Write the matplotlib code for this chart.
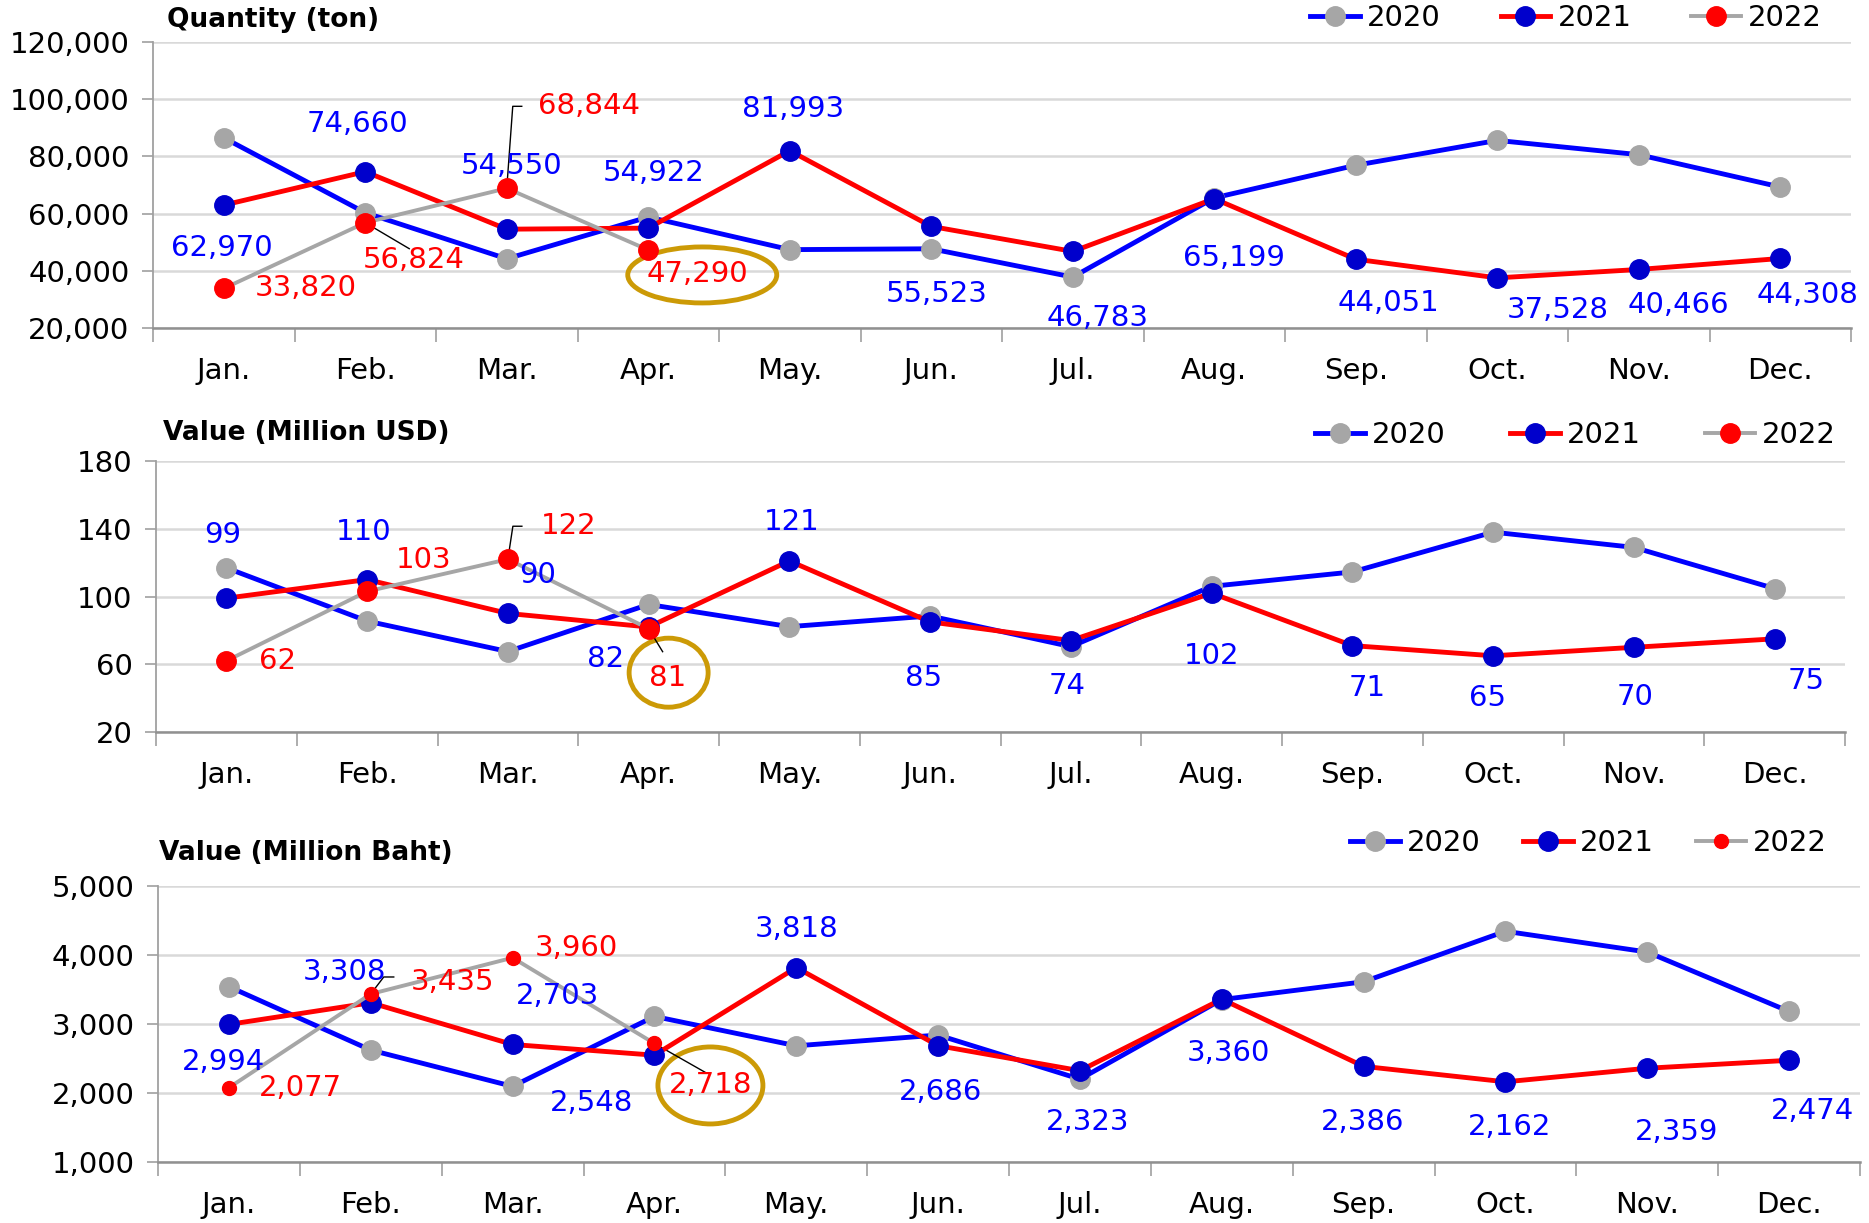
import matplotlib
matplotlib.use("Agg")
import matplotlib.pyplot as plt
import matplotlib.transforms as mtransforms
from matplotlib.lines import Line2D
from matplotlib.patches import Ellipse

plt.rcParams["font.family"] = ["DejaVu Sans"]

months = ["Jan.", "Feb.", "Mar.", "Apr.", "May.", "Jun.",
          "Jul.", "Aug.", "Sep.", "Oct.", "Nov.", "Dec."]
years = ["2020", "2021", "2022"]

# Quantity (ton)
qty_2020 = [86500, 60300, 44200, 58800, 47400, 47700, 37800, 65500, 76900, 85600, 80600, 69300]
qty_2021 = [62970, 74660, 54550, 54922, 81993, 55523, 46783, 65199, 44051, 37528, 40466, 44308]
qty_2022 = [33820, 56824, 68844, 47290]

# Value (Million USD)
usd_2020 = [116.9, 85.5, 67.5, 95.3, 82.2, 88.5, 70.4, 106.0, 114.5, 138.0, 129.0, 104.7]
usd_2021 = [99, 110, 90, 82, 121, 85, 74, 102, 71, 65, 70, 75]
usd_2022 = [62, 103, 122, 81]

# Value (Million Baht)
thb_2020 = [3541, 2622, 2096, 3110, 2684, 2840, 2201, 3354, 3612, 4344, 4043, 3182]
thb_2021 = [2994, 3308, 2703, 2548, 3818, 2686, 2323, 3360, 2386, 2162, 2359, 2474]
thb_2022 = [2077, 3435, 3960, 2718]

W, H = 1869, 1223
BLUE = "#0000FF"
DARKBLUE = "#0000CC"
RED = "#FF0000"
GRAY = "#A6A6A6"
GOLD = "#CC9A06"
FS = 21


def px_trans(ax, x, y):
    # pixel offsets around a data point
    return mtransforms.ScaledTranslation(x, y, ax.transData)


def leader(ax, x, y, pts):
    xs = [p[0] for p in pts]
    ys = [p[1] for p in pts]
    ax.add_artist(Line2D(xs, ys, color="black", lw=1.0,
                         transform=px_trans(ax, x, y), clip_on=False))


def ring(ax, x, y, dx, dy, w, h):
    tr = mtransforms.Affine2D().translate(dx, dy) + px_trans(ax, x, y)
    ax.add_artist(Ellipse((0, 0), w, h, transform=tr, fill=False,
                          ec=GOLD, lw=3.5, clip_on=False))


def draw_panel(fig, box, title, title_xy, legend_xy, colsp, s20, s21, s22,
               ylim, yticks, fmt, off21, off22, ms22=14):
    l, r, t, b = box
    ax = fig.add_axes([l / W, 1 - b / H, (r - l) / W, (b - t) / H])
    x = list(range(12))
    h20, = ax.plot(x, s20, color=BLUE, lw=3.5, marker="o", ms=14,
                   mfc=GRAY, mec=GRAY, zorder=3)
    h21, = ax.plot(x, s21, color=RED, lw=3.5, marker="o", ms=14,
                   mfc=DARKBLUE, mec=DARKBLUE, zorder=4)
    h22, = ax.plot(x[:len(s22)], s22, color=GRAY, lw=2.8, marker="o", ms=ms22,
                   mfc=RED, mec=RED, zorder=5)

    for i, v in enumerate(s21):
        ax.annotate(fmt(v), (i, v), xytext=off21[i], textcoords="offset pixels",
                    ha="center", va="center", color=BLUE, fontsize=FS, zorder=6)
    for i, v in enumerate(s22):
        ax.annotate(fmt(v), (i, v), xytext=off22[i], textcoords="offset pixels",
                    ha="center", va="center", color=RED, fontsize=FS, zorder=6)

    ax.set_xticks(x)
    ax.set_xticklabels(months, fontsize=FS)
    ax.set_xticks([i - 0.5 for i in range(13)], minor=True)
    ax.tick_params(axis="x", which="major", length=0, pad=21)
    ax.tick_params(axis="x", which="minor", length=10, width=1.2, color="#A0A0A0")
    ax.set_yticks(yticks)
    ax.set_yticklabels([fmt(v) for v in yticks], fontsize=FS)
    ax.tick_params(axis="y", length=8, width=1.2, color="#A0A0A0", pad=9)
    ax.grid(axis="y", color="#D9D9D9", lw=1.8)
    ax.set_axisbelow(True)
    for s in ["top", "right"]:
        ax.spines[s].set_visible(False)
    ax.spines["left"].set_color("#A0A0A0")
    ax.spines["bottom"].set_color("#909090")
    ax.spines["left"].set_linewidth(1.3)
    ax.spines["bottom"].set_linewidth(1.8)
    ax.set_xlim(-0.5, 11.5)
    ax.set_ylim(*ylim)

    fig.text(title_xy[0] / W, 1 - title_xy[1] / H, title, fontsize=19,
             fontweight="bold", ha="left", va="center")
    ax.legend([h20, h21, h22], years, loc="center right",
              bbox_to_anchor=(legend_xy[0] / W, 1 - legend_xy[1] / H),
              bbox_transform=fig.transFigure, ncol=3, frameon=False,
              fontsize=FS, handlelength=1.7, handletextpad=0.25,
              columnspacing=colsp, borderpad=0, borderaxespad=0, numpoints=1)
    return ax


fig = plt.figure(figsize=(W / 100, H / 100), dpi=100)
comma = lambda v: f"{v:,.0f}"

ax1 = draw_panel(
    fig, (153, 1851, 42, 328), "Quantity (ton)", (167, 20), (1822, 18), 2.05,
    qty_2020, qty_2021, qty_2022, (20000, 120000),
    [20000, 40000, 60000, 80000, 100000, 120000], comma,
    [(-2, -43), (-8, 48), (5, 63), (5, 55), (3, 42), (5, -68),
     (25, -67), (20, -59), (33, -44), (60, -32), (40, -36), (27, -37)],
    [(82, 0), (48, -37), (82, 82), (49, -24)])
leader(ax1, 1, qty_2022[1], [(0, 0), (44, -26)])
leader(ax1, 2, qty_2022[2], [(0, 0), (6, 82), (15, 82)])
ring(ax1, 3, qty_2022[3], 54, -25, 149, 56)

ax2 = draw_panel(
    fig, (156, 1845, 461, 732), "Value (Million USD)", (163, 433), (1836, 435), 2.2,
    usd_2020, usd_2021, usd_2022, (20, 180), [20, 60, 100, 140, 180], comma,
    [(-4, 63), (-4, 48), (30, 38), (-43, -32), (2, 39), (-7, -56),
     (-4, -45), (0, -63), (15, -42), (-6, -42), (1, -50), (31, -42)],
    [(51, 0), (56, 31), (61, 33), (19, -49)])
leader(ax2, 2, usd_2022[2], [(0, 0), (5, 33), (14, 33)])
leader(ax2, 3, usd_2022[3], [(0, 0), (14, -23)])
ring(ax2, 3, usd_2022[3], 20, -44, 79, 69)

ax3 = draw_panel(
    fig, (158, 1860, 886, 1162), "Value (Million Baht)", (159, 853), (1827, 843), 1.45,
    thb_2020, thb_2021, thb_2022, (1000, 5000), [1000, 2000, 3000, 4000, 5000], comma,
    [(-5, -38), (-26, 31), (45, 48), (-63, -48), (0, 39), (2, -46),
     (8, -51), (7, -54), (-1, -56), (4, -45), (29, -64), (23, -51)],
    [(72, 0), (82, 12), (64, 10), (56, -42)], ms22=10)
leader(ax3, 1, thb_2022[1], [(0, 0), (13, 17), (23, 17)])
leader(ax3, 3, thb_2022[3], [(0, 0), (51, -29)])
ring(ax3, 3, thb_2022[3], 56, -42, 105, 77)

fig.savefig("out.png", dpi=100)
